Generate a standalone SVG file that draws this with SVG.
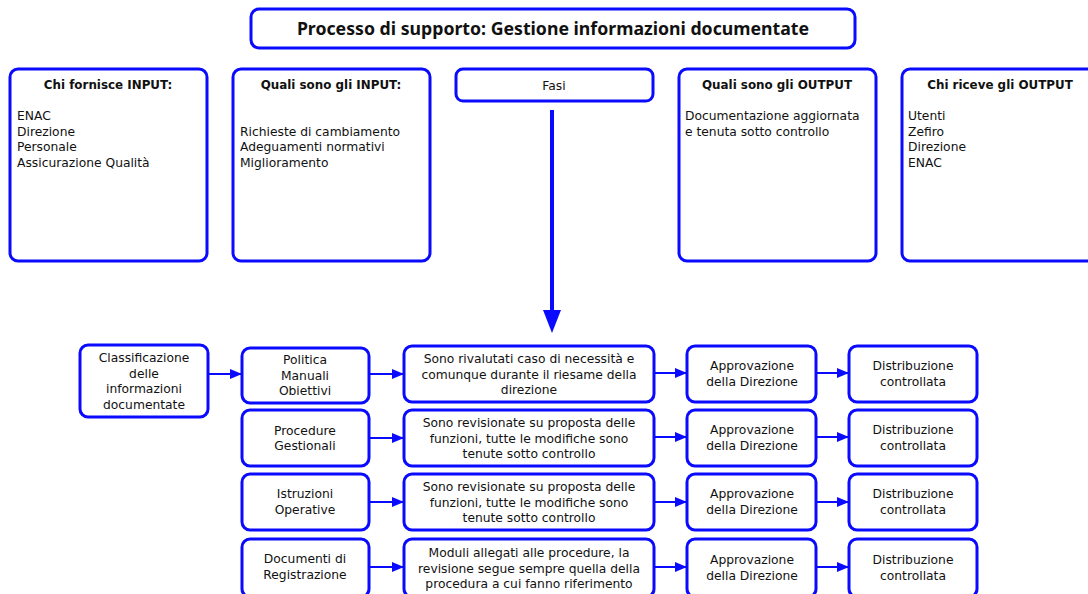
<svg xmlns="http://www.w3.org/2000/svg" width="1088" height="594" viewBox="0 0 1088 594">
  <style>
    .box { fill: #ffffff; stroke: #0a0aff; stroke-width: 3; }
    .t { font-family: "DejaVu Sans", "Noto Sans", sans-serif; font-size: 12.3px; fill: #111111; }
    .c { text-anchor: middle; }
    .h { font-weight: bold; font-size: 11.9px; }
    .title { font-family: "Noto Sans", "DejaVu Sans", sans-serif; font-size: 17.7px; font-weight: bold; fill: #111111; text-anchor: middle; }
    .link { stroke: #0a0aff; stroke-width: 2; fill: none; marker-end: url(#arr); }
    .big { stroke: #0a0aff; stroke-width: 4; fill: none; }
  </style>
  <defs>
    <marker id="arr" markerWidth="12" markerHeight="10" refX="11" refY="5" orient="auto" markerUnits="userSpaceOnUse">
      <path d="M0,0 L12,5 L0,10 Z" fill="#0a0aff"/>
    </marker>
  </defs>
  <rect width="1088" height="594" fill="#ffffff"/>

  <g id="title">
    <rect class="box" x="251" y="9" width="604" height="39" rx="8"/>
    <text class="title" x="553" y="35">Processo di supporto: Gestione informazioni documentate</text>
  </g>

  <g id="chi-fornisce-input">
    <rect class="box" x="10" y="69" width="197" height="192" rx="8"/>
    <text class="t c h" x="108" y="89">Chi fornisce INPUT:</text>
    <text class="t" x="17" y="120">ENAC</text>
    <text class="t" x="17" y="135.5">Direzione</text>
    <text class="t" x="17" y="151">Personale</text>
    <text class="t" x="17" y="166.5">Assicurazione Qualità</text>
  </g>

  <g id="quali-input">
    <rect class="box" x="233" y="69" width="197" height="192" rx="8"/>
    <text class="t c h" x="331" y="89">Quali sono gli INPUT:</text>
    <text class="t" x="240" y="135.5">Richieste di cambiamento</text>
    <text class="t" x="240" y="151">Adeguamenti normativi</text>
    <text class="t" x="240" y="166.5">Miglioramento</text>
  </g>

  <g id="fasi">
    <rect class="box" x="456" y="69" width="197" height="32" rx="7"/>
    <text class="t c" x="554" y="90">Fasi</text>
  </g>

  <g id="quali-output">
    <rect class="box" x="679" y="69" width="197" height="192" rx="8"/>
    <text class="t c h" x="777" y="89">Quali sono gli OUTPUT</text>
    <text class="t" x="685" y="120">Documentazione aggiornata</text>
    <text class="t" x="685" y="135.5">e tenuta sotto controllo</text>
  </g>

  <g id="chi-riceve-output">
    <rect class="box" x="902" y="69" width="197" height="192" rx="8"/>
    <text class="t c h" x="1000" y="89">Chi riceve gli OUTPUT</text>
    <text class="t" x="908" y="120">Utenti</text>
    <text class="t" x="908" y="135.5">Zefiro</text>
    <text class="t" x="908" y="151">Direzione</text>
    <text class="t" x="908" y="166.5">ENAC</text>
  </g>

  <g id="classificazione">
    <rect class="box" x="80" y="345" width="128" height="72" rx="8"/>
    <text class="t c" x="144" y="362">Classificazione</text>
    <text class="t c" x="144" y="377.5">delle</text>
    <text class="t c" x="144" y="393">informazioni</text>
    <text class="t c" x="144" y="408.5">documentate</text>
  </g>

  <!-- row 1 -->
  <g id="politica">
    <rect class="box" x="242" y="348" width="127" height="55" rx="8"/>
    <text class="t c" x="305" y="364">Politica</text>
    <text class="t c" x="305" y="379.5">Manuali</text>
    <text class="t c" x="305" y="395">Obiettivi</text>
  </g>
  <g id="rivalutati">
    <rect class="box" x="404" y="346" width="250" height="56" rx="8"/>
    <text class="t c" x="529" y="363">Sono rivalutati caso di necessità e</text>
    <text class="t c" x="529" y="378.5">comunque durante il riesame della</text>
    <text class="t c" x="529" y="394">direzione</text>
  </g>
  <g id="approvazione-1">
    <rect class="box" x="687" y="346" width="129" height="56" rx="8"/>
    <text class="t c" x="752" y="370">Approvazione</text>
    <text class="t c" x="752" y="385.5">della Direzione</text>
  </g>
  <g id="distribuzione-1">
    <rect class="box" x="849" y="346" width="128" height="56" rx="8"/>
    <text class="t c" x="913" y="370">Distribuzione</text>
    <text class="t c" x="913" y="385.5">controllata</text>
  </g>

  <!-- row 2 -->
  <g id="procedure">
    <rect class="box" x="242" y="410" width="127" height="56" rx="8"/>
    <text class="t c" x="305" y="434.5">Procedure</text>
    <text class="t c" x="305" y="450">Gestionali</text>
  </g>
  <g id="revisionate-1">
    <rect class="box" x="404" y="410" width="250" height="56" rx="8"/>
    <text class="t c" x="529" y="427">Sono revisionate su proposta delle</text>
    <text class="t c" x="529" y="442.5">funzioni, tutte le modifiche sono</text>
    <text class="t c" x="529" y="458">tenute sotto controllo</text>
  </g>
  <g id="approvazione-2">
    <rect class="box" x="687" y="410" width="129" height="56" rx="8"/>
    <text class="t c" x="752" y="434">Approvazione</text>
    <text class="t c" x="752" y="449.5">della Direzione</text>
  </g>
  <g id="distribuzione-2">
    <rect class="box" x="849" y="410" width="128" height="56" rx="8"/>
    <text class="t c" x="913" y="434">Distribuzione</text>
    <text class="t c" x="913" y="449.5">controllata</text>
  </g>

  <!-- row 3 -->
  <g id="istruzioni">
    <rect class="box" x="242" y="474" width="127" height="56" rx="8"/>
    <text class="t c" x="305" y="498">Istruzioni</text>
    <text class="t c" x="305" y="513.5">Operative</text>
  </g>
  <g id="revisionate-2">
    <rect class="box" x="404" y="474" width="250" height="56" rx="8"/>
    <text class="t c" x="529" y="491">Sono revisionate su proposta delle</text>
    <text class="t c" x="529" y="506.5">funzioni, tutte le modifiche sono</text>
    <text class="t c" x="529" y="522">tenute sotto controllo</text>
  </g>
  <g id="approvazione-3">
    <rect class="box" x="687" y="474" width="129" height="56" rx="8"/>
    <text class="t c" x="752" y="498">Approvazione</text>
    <text class="t c" x="752" y="513.5">della Direzione</text>
  </g>
  <g id="distribuzione-3">
    <rect class="box" x="849" y="474" width="128" height="56" rx="8"/>
    <text class="t c" x="913" y="498">Distribuzione</text>
    <text class="t c" x="913" y="513.5">controllata</text>
  </g>

  <!-- row 4 -->
  <g id="documenti">
    <rect class="box" x="242" y="539" width="127" height="58" rx="8"/>
    <text class="t c" x="305" y="563">Documenti di</text>
    <text class="t c" x="305" y="578.5">Registrazione</text>
  </g>
  <g id="moduli">
    <rect class="box" x="404" y="539" width="250" height="58" rx="8"/>
    <text class="t c" x="529" y="557">Moduli allegati alle procedure, la</text>
    <text class="t c" x="529" y="572.5">revisione segue sempre quella della</text>
    <text class="t c" x="529" y="588">procedura a cui fanno riferimento</text>
  </g>
  <g id="approvazione-4">
    <rect class="box" x="687" y="539" width="129" height="58" rx="8"/>
    <text class="t c" x="752" y="564">Approvazione</text>
    <text class="t c" x="752" y="579.5">della Direzione</text>
  </g>
  <g id="distribuzione-4">
    <rect class="box" x="849" y="539" width="128" height="58" rx="8"/>
    <text class="t c" x="913" y="564">Distribuzione</text>
    <text class="t c" x="913" y="579.5">controllata</text>
  </g>

  <g id="connectors">
    <line class="big" x1="552" y1="110" x2="552" y2="312"/>
    <path d="M543,310 L561,310 L552,333 Z" fill="#0a0aff"/>

    <line class="link" x1="209" y1="374" x2="241" y2="374"/>

    <line class="link" x1="370" y1="374" x2="403" y2="374"/>
    <line class="link" x1="655" y1="373" x2="686" y2="373"/>
    <line class="link" x1="817" y1="373" x2="848" y2="373"/>

    <line class="link" x1="370" y1="438" x2="403" y2="438"/>
    <line class="link" x1="655" y1="437" x2="686" y2="437"/>
    <line class="link" x1="817" y1="437" x2="848" y2="437"/>

    <line class="link" x1="370" y1="502" x2="403" y2="502"/>
    <line class="link" x1="655" y1="502" x2="686" y2="502"/>
    <line class="link" x1="817" y1="502" x2="848" y2="502"/>

    <line class="link" x1="370" y1="567" x2="403" y2="567"/>
    <line class="link" x1="655" y1="567" x2="686" y2="567"/>
    <line class="link" x1="817" y1="567" x2="848" y2="567"/>
  </g>
</svg>
